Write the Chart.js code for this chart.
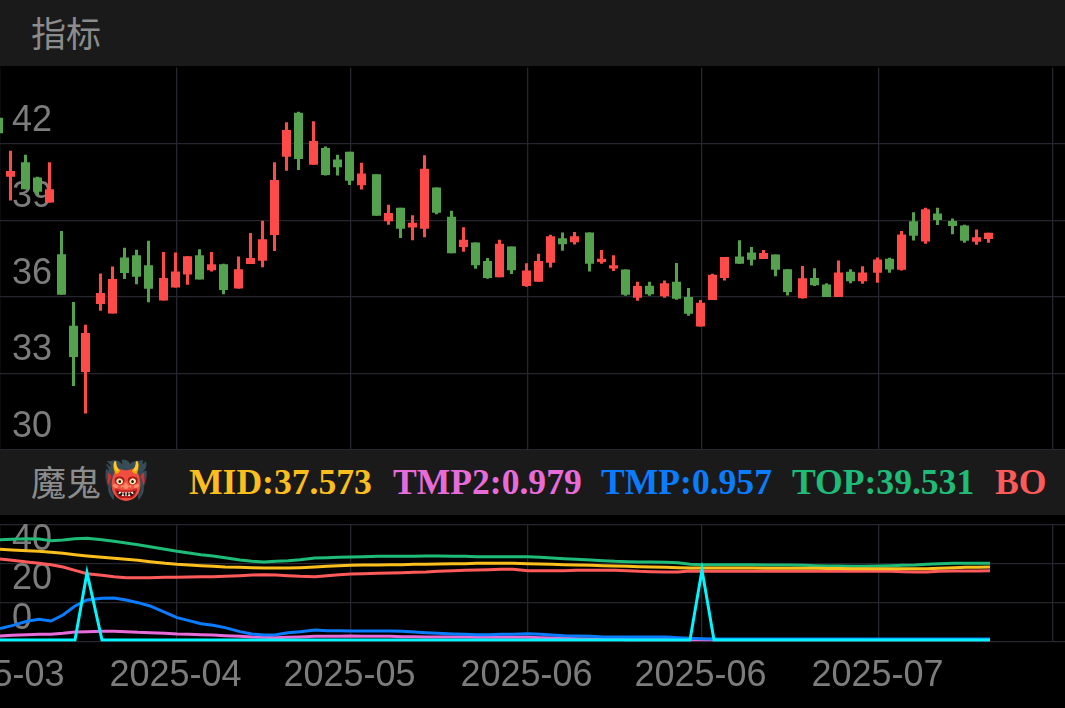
<!DOCTYPE html>
<html lang="zh">
<head>
<meta charset="utf-8">
<script src="https://cdn.jsdelivr.net/npm/chart.js@4"></script>
<style>
html,body{margin:0;padding:0;background:#000;width:1065px;height:708px;overflow:hidden}
.bar{position:absolute;left:0;width:1065px;background:#1a1a1a;overflow:hidden}
#h1{top:0;height:66px}
#h2{top:449px;height:66px}
.title{position:absolute;left:31px;font:35px "Liberation Sans","Noto Sans CJK SC",sans-serif;color:#8c8c8c;white-space:nowrap}
.emoji{position:absolute;left:103px;font-size:37px;line-height:44px;top:10px;white-space:nowrap}
.lg{position:absolute;top:9px;font:bold 35.6px "Liberation Serif",serif;white-space:nowrap;line-height:48px}
canvas{position:absolute;left:0;display:block}
</style>
</head>
<body>
<div class="bar" id="h1"><span class="title" style="top:6px">指标</span></div>
<div class="bar" id="h2">
  <span class="title" style="top:6px">魔鬼</span><span class="emoji">👹</span>
  <span class="lg" style="left:189px;color:#fbbf1d">MID:37.573</span>
  <span class="lg" style="left:393px;color:#e76bd9">TMP2:0.979</span>
  <span class="lg" style="left:601px;color:#0a7cff">TMP:0.957</span>
  <span class="lg" style="left:792px;color:#1ebc78">TOP:39.531</span>
  <span class="lg" style="left:995px;color:#ff5a5a">BO</span>
</div>
<canvas id="price" width="1065" height="383" style="top:66.5px"></canvas>
<canvas id="ind" width="1065" height="193" style="top:515px"></canvas>
<script>
const opens=[43.03,40.72,41.28,40.69,39.71,37.68,34.87,33.06,35.73,35.35,37.55,37.64,37.25,35.86,36.37,36.88,37.64,37.05,37.28,36.33,37.29,37.42,38.43,41.50,43.23,41.19,41.84,41.39,41.70,40.38,40.81,38.97,39.50,38.73,38.68,40.29,39.15,37.96,38.14,37.41,36.77,37.98,36.43,36.60,37.34,38.30,38.15,38.53,37.37,37.12,37.08,35.97,36.44,36.03,36.60,36.00,34.84,35.88,36.75,37.59,37.75,37.49,37.67,37.09,35.95,36.75,36.49,36.00,36.99,36.62,36.95,37.50,37.07,38.97,38.18,39.27,38.98,38.80,38.17,38.27];
const highs=[43.03,41.74,41.58,40.72,41.28,38.59,35.80,34.91,36.92,37.20,37.93,37.85,38.21,37.76,37.75,37.60,37.87,37.76,37.30,37.59,38.51,38.99,41.28,42.85,43.26,42.89,41.90,41.58,41.70,41.26,40.81,39.62,39.50,39.21,41.56,40.29,39.38,38.74,38.14,37.53,38.25,37.98,37.32,37.70,38.44,38.53,38.55,38.53,37.84,37.64,37.08,36.60,36.60,36.65,37.33,36.35,35.88,36.91,37.57,38.23,37.96,37.84,37.67,37.09,37.22,37.13,36.54,37.43,37.09,37.21,37.55,37.54,38.59,39.32,39.50,39.50,39.08,38.83,38.65,38.52];
const lows=[42.42,39.78,40.23,40.00,39.71,36.09,32.51,31.43,35.46,35.35,36.71,36.50,35.79,35.86,36.37,36.48,36.69,37.00,36.11,36.33,37.29,37.17,37.80,40.95,40.98,41.19,40.76,40.76,40.39,40.22,39.19,38.83,38.31,38.23,38.34,39.25,37.72,37.77,37.11,36.72,36.77,36.90,36.40,36.60,37.16,37.81,38.06,37.00,37.30,37.02,36.05,35.85,36.05,35.97,35.89,35.26,34.84,35.88,36.65,37.30,37.24,37.49,36.81,36.06,35.94,36.43,36.00,36.00,36.54,36.52,36.56,36.95,37.04,38.22,38.09,38.82,38.46,38.13,38.05,38.13];
const closes=[42.42,40.94,40.23,40.13,40.23,36.09,33.65,34.59,36.16,36.71,36.94,36.79,36.32,36.75,37.00,37.60,36.69,37.28,36.27,37.09,37.53,38.26,40.59,42.55,41.41,42.12,40.78,41.09,40.56,40.84,39.19,39.29,38.68,38.91,41.03,39.30,37.72,38.25,37.25,36.75,38.09,37.05,37.04,37.41,38.38,38.07,38.38,37.30,37.50,37.25,36.09,36.43,36.11,36.54,35.93,35.34,35.77,36.87,37.57,37.30,37.46,37.73,37.07,36.20,36.74,36.46,36.00,36.96,36.62,36.96,37.47,37.08,38.45,38.40,39.44,39.02,38.78,38.21,38.34,38.52];

const midLine=[47.20,46.86,46.52,46.18,45.67,45.15,44.47,43.79,43.11,42.60,42.09,41.58,40.90,40.05,39.53,39.19,38.85,38.51,38.17,38.00,37.83,37.66,37.66,37.66,37.83,38.17,38.51,38.85,39.02,39.19,39.19,39.36,39.36,39.53,39.53,39.70,39.87,39.87,40.05,40.05,40.05,40.05,39.87,39.70,39.53,39.36,39.19,39.02,38.85,38.68,38.51,38.34,38.17,38.00,37.83,37.66,37.66,37.66,37.66,37.66,37.66,37.49,37.49,37.49,37.49,37.49,37.40,37.40,37.32,37.32,37.32,37.32,37.32,37.32,37.32,37.49,37.83,38.00,38.00,38.17];
const tmp2Line=[2.92,3.26,3.60,3.77,3.77,4.28,4.96,5.13,5.30,5.30,5.13,4.79,4.62,4.28,3.94,3.77,3.60,3.43,3.09,2.75,2.41,2.24,2.07,2.24,2.41,2.75,2.75,2.75,2.92,2.75,2.75,2.75,2.58,2.58,2.41,2.41,2.41,2.41,2.24,2.24,2.24,2.24,2.24,2.07,1.90,1.73,1.56,1.39,1.22,1.22,1.05,1.05,1.05,1.05,1.05,1.05,1.05,1.05,1.05,1.05,1.05,1.05,1.05,1.05,1.05,1.05,1.05,1.05,1.05,1.05,1.05,1.05,1.05,1.05,1.05,1.05,1.05,1.05,1.05,1.05];
const tmpLine=[6.67,8.20,10.41,11.43,10.58,13.65,18.25,21.31,22.17,22.34,21.31,19.95,18.25,15.01,12.29,10.75,9.22,8.37,7.18,5.13,3.94,3.43,3.60,4.62,5.13,5.99,5.65,5.65,5.47,5.47,5.47,5.47,5.30,4.96,4.62,4.28,3.94,3.77,3.60,3.60,3.77,3.77,4.11,3.77,3.43,3.09,2.92,2.75,2.41,2.41,2.41,2.41,2.41,2.41,2.07,1.73,1.56,1.39,1.39,1.39,1.39,1.39,1.39,1.39,1.39,1.39,1.39,1.39,1.39,1.39,1.39,1.39,1.39,1.39,1.39,1.39,1.39,1.39,1.39,1.39];
const topLine=[52.14,52.31,52.65,52.48,51.63,51.97,52.65,52.82,52.14,51.29,50.43,49.58,48.56,47.20,46.18,45.32,44.47,43.79,42.94,41.75,41.07,40.73,41.07,41.41,41.92,42.77,42.94,43.11,43.28,43.45,43.62,43.62,43.62,43.62,43.79,43.79,43.62,43.62,43.45,43.45,43.45,43.45,43.45,43.11,42.77,42.43,42.09,41.75,41.41,41.07,40.90,40.73,40.73,40.56,40.39,39.53,39.36,39.36,39.36,39.36,39.36,39.19,39.19,39.19,39.02,38.85,38.68,38.68,38.51,38.51,38.68,38.85,39.02,39.19,39.53,39.87,40.05,40.05,40.05,40.05];
const botLine=[42.26,41.58,40.73,40.05,39.36,38.17,36.47,34.77,33.91,33.23,32.72,32.72,32.72,32.89,32.89,33.06,33.23,33.23,33.40,33.74,34.08,34.25,34.08,33.74,33.40,33.23,33.74,34.25,34.60,34.77,34.94,35.11,35.28,35.45,35.62,35.96,36.30,36.47,36.64,36.81,36.98,36.98,36.30,36.30,36.30,36.30,36.47,36.47,36.47,36.47,36.30,35.96,35.79,35.62,35.62,36.13,35.96,35.96,35.96,35.96,35.96,35.96,35.96,35.96,35.96,35.96,35.96,35.96,35.96,35.96,35.96,35.96,35.79,35.62,35.62,35.96,36.13,36.13,36.13,36.30];
const signalLine=[0.88,0.88,0.88,0.88,0.88,0.88,0.88,35.30,0.88,0.88,0.88,0.88,0.88,0.88,0.88,0.88,0.88,0.88,0.88,0.88,0.88,0.88,0.88,0.88,0.88,0.88,0.88,0.88,0.88,0.88,0.88,0.88,0.88,0.88,0.88,0.88,0.88,0.88,0.88,0.88,0.88,0.88,0.88,0.88,0.88,0.88,0.88,0.88,0.88,0.88,0.88,0.88,0.88,0.88,0.88,0.88,36.64,0.88,0.88,0.88,0.88,0.88,0.88,0.88,0.88,0.88,0.88,0.88,0.88,0.88,0.88,0.88,0.88,0.88,0.88,0.88,0.88,0.88,0.88,0.88];

const priceTicks=[30,33,36,39,42];
const indTicks=[0,20,40,60];
const indTickText=['0','20','40',''];
const dateLabels=['2025-03','2025-04','2025-05','2025-06','2025-06','2025-07',''];

// The source chart snaps bars to whole logical pixels; one x-unit is one of those.
const slotOf=i=>Math.floor(i*4.177+0.71);
const BARS_PER_TICK=14;
const xTickValues=dateLabels.map((_,k)=>slotOf(k*BARS_PER_TICK));
const GRID='#26262e', TXT='#7c7c7c', FONT='"Liberation Sans",sans-serif';
const UP='#fe4a48', DOWN='#54a24e';
const colors=closes.map((c,i)=>c>=opens[i]?UP:DOWN);
const xAxis=(showLabels)=>({
  type:'linear',min:0,max:355,offset:false,
  grid:{color:GRID,lineWidth:1.3,drawTicks:false,offset:false},
  border:{display:false},
  afterBuildTicks(s){s.ticks=xTickValues.map(value=>({value}));},
  afterFit(s){s.paddingLeft=0;s.paddingRight=0;s.height=showLabels?66.3:0;},
  ticks:{display:showLabels,autoSkip:false,maxRotation:0,minRotation:0,color:TXT,
    font:{family:FONT,size:36},padding:13,labelOffset:-1.5,
    callback:(v)=>dateLabels[xTickValues.indexOf(v)]}
});
const yAxis=(min,max,vals,fmt)=>({
  type:'linear',min,max,position:'left',
  grid:{color:GRID,lineWidth:1.3,drawTicks:false},
  border:{display:false},
  afterBuildTicks(s){s.ticks=vals.map(value=>({value}));},
  afterFit(s){s.width=0;s.paddingLeft=0;s.paddingRight=0;s.paddingTop=0;s.paddingBottom=0;},
  ticks:{mirror:true,autoSkip:false,padding:12,labelOffset:-23,color:TXT,font:{family:FONT,size:36},callback:fmt}
});
const base={responsive:false,animation:false,devicePixelRatio:1,events:[],
  plugins:{legend:{display:false},tooltip:{enabled:false}}};

new Chart(document.getElementById('price'),{
  type:'bar',
  data:{datasets:[
    {label:'wick',data:opens.map((_,i)=>({x:slotOf(i)-0.5,y:[lows[i],highs[i]]})),
     backgroundColor:colors,barThickness:3,grouped:false,borderWidth:0,inflateAmount:0},
    {label:'body',data:opens.map((o,i)=>({x:slotOf(i)-0.5,y:[o,closes[i]]})),
     backgroundColor:colors,barThickness:9,grouped:false,borderWidth:0,inflateAmount:0}
  ]},
  options:{...base,layout:{padding:{top:0.5,bottom:0,left:0,right:0}},
    scales:{x:xAxis(false),y:yAxis(30,45,priceTicks,v=>String(v))}}
});

const lineDs=(label,values,color)=>({label,data:values.map((y,i)=>({x:slotOf(i),y})),
  borderColor:color,borderWidth:3,pointRadius:0,tension:0,fill:false});
new Chart(document.getElementById('ind'),{
  type:'line',
  data:{datasets:[
    lineDs('SIGNAL',signalLine,'#00f7ff'),
    lineDs('TMP',tmpLine,'#0a7cff'),
    lineDs('TMP2',tmp2Line,'#e76bd9'),
    lineDs('MID',midLine,'#fbbf1d'),
    lineDs('BOT',botLine,'#ff5a5a'),
    lineDs('TOP',topLine,'#1ebc78')
  ]},
  options:{...base,layout:{padding:{top:9.3,bottom:0,left:0,right:0}},
    scales:{x:xAxis(true),y:yAxis(0,60,indTicks,v=>indTickText[indTicks.indexOf(v)])}}
});
</script>
</body>
</html>
